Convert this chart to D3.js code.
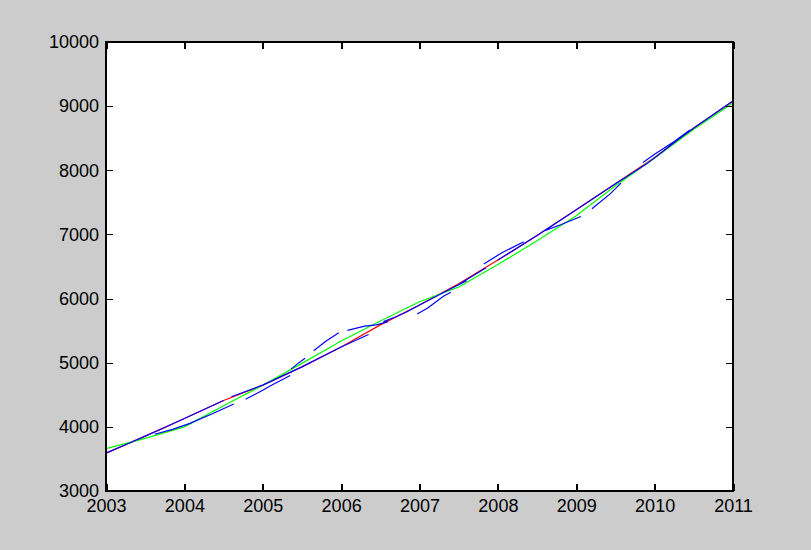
<!DOCTYPE html>
<html>
<head>
<meta charset="utf-8">
<script src="https://cdn.jsdelivr.net/npm/d3@7"></script>
<style>
  body { margin: 0; background: #cccccc; }
  svg { display: block; }
  .tick text { font-family: "Liberation Sans", Arial, sans-serif; font-size: 18px; fill: #000; }
</style>
</head>
<body>
<svg id="chart" width="811" height="550"></svg>
<script>
const xTicks = [2003, 2004, 2005, 2006, 2007, 2008, 2009, 2010, 2011];
const yTicks = [3000, 4000, 5000, 6000, 7000, 8000, 9000, 10000];

// red and green are sampled every half year
const halfYears = [2003, 2003.5, 2004, 2004.5, 2005, 2005.5, 2006, 2006.5, 2007,
  2007.5, 2008, 2008.5, 2009, 2009.5, 2010, 2010.5, 2011];
const redValues = [3590, 3855, 4130, 4410, 4650, 4935, 5245, 5590, 5900,
  6230, 6600, 6985, 7385, 7790, 8200, 8660, 9080];
const greenValues = [3660, 3820, 4000, 4330, 4650, 4990, 5340, 5650, 5950,
  6180, 6530, 6900, 7290, 7760, 8190, 8640, 9050];

// blue is broken into pieces, null marks a gap
const blueYears = [
  2003, 2003.25, 2003.5, 2003.75, 2004, 2004.25, 2004.5, null,
  2003.62, 2003.85, 2004.07, 2004.35, 2004.63, null,
  2004.78, 2005, 2005.1, 2005.35, null,
  2004.6, 2005, 2005.5, 2006, 2006.35, null,
  2005.36, 2005.45, 2005.54, null,
  2005.65, 2005.8, 2005.97, null,
  2006.08, 2006.3, 2006.45, 2006.6, null,
  2006.54, 2006.7, 2006.84, 2007, 2007.3, 2007.6, null,
  2006.97, 2007.1, 2007.31, 2007.4, null,
  2007.5, 2007.85, null,
  2007.82, 2008.04, 2008.33, null,
  2008, 2008.5, null,
  2008.6, 2008.8, 2009.06, null,
  2009.2, 2009.44, 2009.57, null,
  2008.5, 2009, 2009.5, 2009.9, 2010.1, 2010.3, 2010.5, 2011, null,
  2009.85, 2010, 2010.25, 2010.45
];
const blueValues = [
  3590, 3720, 3855, 3990, 4130, 4270, 4410, null,
  3885, 3960, 4055, 4200, 4356, null,
  4430, 4570, 4640, 4800, null,
  4470, 4650, 4935, 5245, 5440, null,
  4900, 4990, 5069, null,
  5187, 5330, 5468, null,
  5505, 5570, 5590, 5640, null,
  5640, 5717, 5795, 5900, 6090, 6280, null,
  5760, 5848, 6040, 6100, null,
  6220, 6480, null,
  6540, 6706, 6887, null,
  6600, 6985, null,
  7060, 7150, 7280, null,
  7400, 7640, 7800, null,
  6985, 7385, 7790, 8100, 8290, 8480, 8660, 9080, null,
  8120, 8250, 8450, 8630
];

const svg = d3.select("#chart");
const margin = { top: 42, right: 78, bottom: 59, left: 106 };
const width = 811, height = 550;

const x = d3.scaleLinear().domain([2003, 2011]).range([margin.left, width - margin.right]);
const y = d3.scaleLinear().domain([3000, 10000]).range([height - margin.bottom, margin.top]);

svg.append("rect")
  .attr("x", x(2003)).attr("y", y(10000))
  .attr("width", x(2011) - x(2003)).attr("height", y(3000) - y(10000))
  .attr("fill", "#fff");

const line = d3.line()
  .defined((d) => d[0] != null && d[1] != null)
  .x((d) => x(d[0]))
  .y((d) => y(d[1]));

const addSeries = (xs, ys, color) => {
  svg.append("path")
    .datum(xs.map((v, i) => [v, ys[i]]))
    .attr("fill", "none")
    .attr("stroke", color)
    .attr("stroke-width", 1.2)
    .attr("d", line);
};

addSeries(halfYears, redValues, "#ff0000");
addSeries(halfYears, greenValues, "#00ff00");
addSeries(blueYears, blueValues, "#0000ff");

// axes, ticks pointing inward on all four sides
const axisB = svg.append("g")
  .attr("transform", `translate(0,${y(3000)})`)
  .call(d3.axisBottom(x).tickValues(xTicks).tickFormat(d3.format("d")).tickSize(-7).tickPadding(8));
const axisT = svg.append("g")
  .attr("transform", `translate(0,${y(10000)})`)
  .call(d3.axisTop(x).tickValues(xTicks).tickFormat("").tickSize(-7));
const axisL = svg.append("g")
  .attr("transform", `translate(${x(2003)},0)`)
  .call(d3.axisLeft(y).tickValues(yTicks).tickFormat(d3.format("d")).tickSize(-7).tickPadding(7));
const axisR = svg.append("g")
  .attr("transform", `translate(${x(2011)},0)`)
  .call(d3.axisRight(y).tickValues(yTicks).tickFormat("").tickSize(-7));

[axisB, axisT, axisL, axisR].forEach((g) => {
  g.select(".domain").remove();
  g.selectAll(".tick line").attr("stroke", "#000").attr("shape-rendering", "crispEdges");
  g.selectAll(".tick text").attr("font-family", null).attr("font-size", null);
});
axisB.selectAll(".tick line").attr("stroke-width", 2);
axisT.selectAll(".tick line").attr("stroke-width", 2);

svg.append("rect")
  .attr("x", x(2003)).attr("y", y(10000))
  .attr("width", x(2011) - x(2003)).attr("height", y(3000) - y(10000))
  .attr("fill", "none")
  .attr("stroke", "#000")
  .attr("stroke-width", 2);
</script>
</body>
</html>
